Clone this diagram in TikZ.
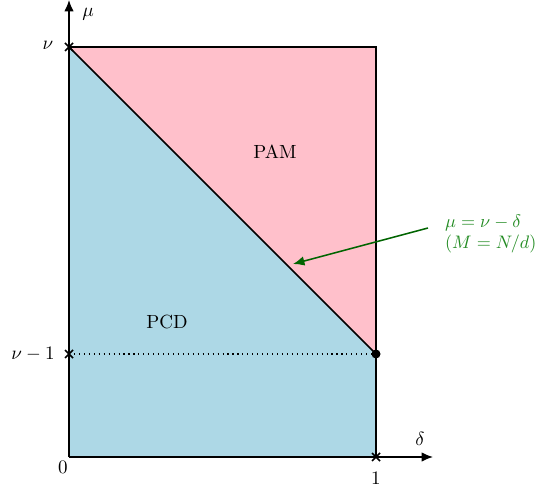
\documentclass[tikz,border=0pt]{standalone}
\usetikzlibrary{arrows.meta}
\definecolor{pamc}{RGB}{255,192,203}
\definecolor{pcdc}{RGB}{173,216,230}
\definecolor{grn}{RGB}{0,100,0}
\definecolor{grntext}{RGB}{34,139,34}
\begin{document}
\begin{tikzpicture}[x=0.525pt,y=0.525pt,
  axis/.style={line width=0.8pt,-{Latex[length=6pt,width=5pt]}},
  edge/.style={line width=0.8pt},
  crossmark/.style={line width=0.8pt},
  lbl/.style={inner sep=1pt}]
\useasboundingbox (0,0) rectangle (538,488);
\coordinate (O) at (69,31);
\coordinate (nu) at (69,441);
\coordinate (num) at (69,134);
\coordinate (onenum) at (376,134);
\coordinate (onenu) at (376,441);
\coordinate (one) at (376,31);
\coordinate (xend) at (433,31);
\coordinate (yend) at (69,488);
\fill[pamc] (nu) -- (onenu) -- (onenum) -- cycle;
\fill[pcdc] (O) -- (one) -- (onenum) -- (nu) -- cycle;
\draw[edge] (nu) -- (onenu) -- (onenum);
\draw[edge] (nu) -- (onenum);
\draw[edge] (one) -- (onenum);
\draw[line width=0.6pt,dotted] (num) -- (onenum);
\draw[axis] (O) -- (xend);
\draw[axis] (O) -- (yend);
\foreach \p in {nu,num,one}{
  \draw[crossmark] ([shift={(-4,-4)}]\p) -- ([shift={(4,4)}]\p);
  \draw[crossmark] ([shift={(-4,4)}]\p) -- ([shift={(4,-4)}]\p);
}
\fill (onenum) circle (4.5);
\node[lbl] (mu) at (88,474) {$\mu$};
\node[lbl] (lnu) at (48,443) {$\nu$};
\node[lbl] (lnum) at (33,134) {$\nu-1$};
\node[lbl] (l0) at (63,21) {$0$};
\node[lbl] (l1) at (376,10) {$1$};
\node[lbl] (ldelta) at (420,49) {$\delta$};
\node[lbl] (pam) at (275,336) {PAM};
\node[lbl] (pcd) at (167,166) {PCD};
\node[lbl,anchor=west,text=grntext,align=left,scale=0.95] (eq) at (443,254) {$\mu=\nu-\delta$\\$(M=N/d)$};
\coordinate (tip) at (293,224);
\draw[grn,line width=0.8pt,-{Latex[length=6pt,width=5pt]}] (428,260) -- (tip);
\end{tikzpicture}
\end{document}
